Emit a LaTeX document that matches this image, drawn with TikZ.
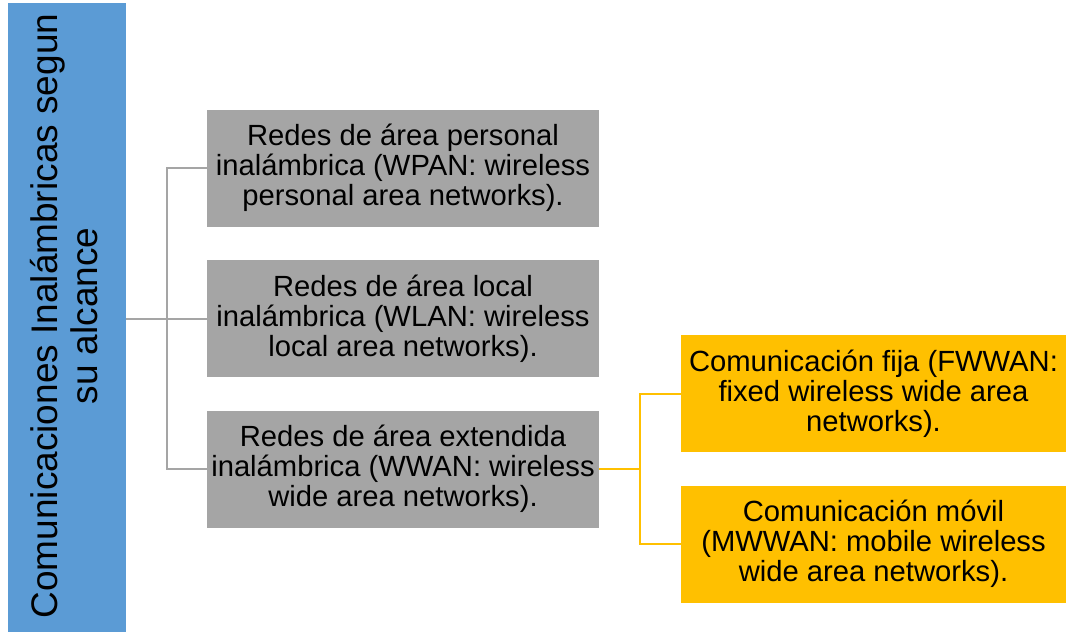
\documentclass[tikz,border=0pt]{standalone}
\usepackage{fontspec}
\setmainfont{Liberation Sans}
\newcommand\myrootfnt{\fontsize{37}{40}\selectfont\lineskiplimit=-50pt\relax}
\newcommand\myboxfnt{\fontsize{29.2}{30}\selectfont\lineskiplimit=-50pt\relax}
\definecolor{cblue}{HTML}{5B9BD5}
\definecolor{cgray}{HTML}{A5A5A5}
\definecolor{cyellow}{HTML}{FFC000}
\tikzset{
  rootbox/.style={fill=cblue, draw=none, minimum width=118pt, minimum height=629pt, inner sep=0pt},
  roottext/.style={rotate=90, align=center, inner sep=0pt, font=\myrootfnt},
  graybox/.style={fill=cgray, draw=none, minimum width=392pt, minimum height=117pt, inner sep=2pt, align=center, font=\myboxfnt},
  yellowbox/.style={fill=cyellow, draw=none, minimum width=385pt, minimum height=117pt, inner sep=2pt, align=center, font=\myboxfnt},
  grayline/.style={draw=cgray, line width=2pt},
  yellowline/.style={draw=cyellow, line width=2pt}
}
\begin{document}
\begin{tikzpicture}[x=1pt, y=-1pt]
\useasboundingbox (0,0) rectangle (1067,632);
\node[rootbox] (root) at (67,317.5) {};
\node[roottext] (roottxt) at (64.5,316) {Comunicaciones Inalámbricas segun\\su alcance};
\node[graybox] (g1) at (403,168) {Redes de área personal\\inalámbrica (WPAN: wireless\\personal area networks).};
\node[graybox] (g2) at (403,318.5) {Redes de área local\\inalámbrica (WLAN: wireless\\local area networks).};
\node[graybox] (g3) at (403,469) {Redes de área extendida\\inalámbrica (WWAN: wireless\\wide area networks).};
\node[yellowbox] (y1) at (873.5,393.5) {Comunicación fija (FWWAN:\\fixed wireless wide area\\networks).};
\node[yellowbox] (y2) at (873.5,544) {Comunicación móvil\\(MWWAN: mobile wireless\\wide area networks).};
\coordinate (gb) at (167,0);
\coordinate (yb) at (640,0);
\draw[grayline] (root.east |- g2.west) -- (g2.west);
\draw[grayline] (g1.west) -- (g1.west -| gb) -- (g3.west -| gb) -- (g3.west);
\draw[yellowline] (g3.east) -- (g3.east -| yb);
\draw[yellowline] (y1.west) -- (y1.west -| yb) -- (y2.west -| yb) -- (y2.west);
\end{tikzpicture}
\end{document}
